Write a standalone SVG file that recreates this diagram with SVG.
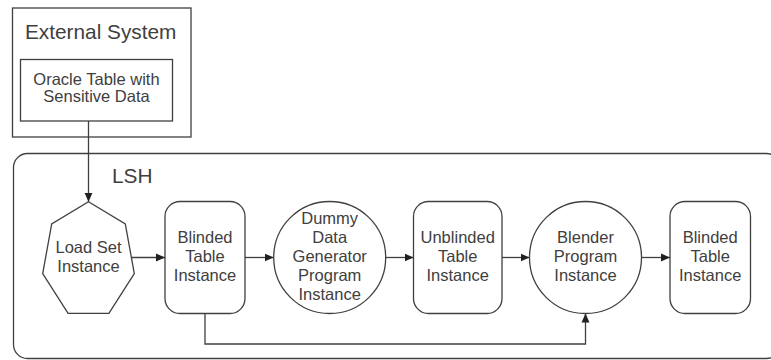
<svg xmlns="http://www.w3.org/2000/svg" width="771" height="360" viewBox="0 0 771 360">
<style>
.s{fill:#fff;stroke:#404040;stroke-width:1.3}
.c{fill:none;stroke:#404040;stroke-width:1.3}
text{font-family:"Liberation Sans",Arial,sans-serif;fill:#404040}
.t{font-size:16.5px;text-anchor:middle}
.h{font-size:20.8px}
</style>
<defs>
<marker id="ah" markerUnits="userSpaceOnUse" markerWidth="10" markerHeight="10" viewBox="0 0 10 10" refX="9" refY="5" orient="auto">
<path d="M0,1 L9,5 L0,9 Z" fill="#202020"/>
</marker>
</defs>
<rect width="771" height="360" fill="#fff"/>
<g id="external-system">
<rect class="s" x="12.5" y="8" width="178.5" height="129"/>
<text class="h" x="25" y="38.5">External System</text>
</g>
<g id="oracle-table">
<rect class="s" x="20.5" y="59.5" width="152" height="61.5"/>
<text class="t" x="96.5" y="85">Oracle Table with</text>
<text class="t" x="96.5" y="102">Sensitive Data</text>
</g>
<g id="lsh">
<rect class="s" x="13.5" y="153.5" width="767" height="205" rx="14"/>
<text class="h" x="112" y="183">LSH</text>
</g>
<g id="load-set">
<polygon class="s" points="88.5,201.8 125.3,223.9 134.3,273.6 108.9,313.4 68.1,313.4 42.7,273.6 51.7,223.9"/>
<text class="t" x="88.5" y="253">Load Set</text>
<text class="t" x="88.5" y="272">Instance</text>
</g>
<g id="blinded-1">
<rect class="s" x="165" y="201.5" width="80" height="112" rx="15"/>
<text class="t" x="205" y="243">Blinded</text>
<text class="t" x="205" y="262">Table</text>
<text class="t" x="205" y="281">Instance</text>
</g>
<g id="dummy-generator">
<circle class="s" cx="329.7" cy="257.5" r="56"/>
<text class="t" x="329.7" y="224">Dummy</text>
<text class="t" x="329.7" y="243">Data</text>
<text class="t" x="329.7" y="262">Generator</text>
<text class="t" x="329.7" y="281">Program</text>
<text class="t" x="329.7" y="300">Instance</text>
</g>
<g id="unblinded">
<rect class="s" x="413.5" y="201.5" width="88.5" height="112" rx="15"/>
<text class="t" x="457.7" y="243">Unblinded</text>
<text class="t" x="457.7" y="262">Table</text>
<text class="t" x="457.7" y="281">Instance</text>
</g>
<g id="blender">
<circle class="s" cx="585.5" cy="257.5" r="56"/>
<text class="t" x="585.5" y="243">Blender</text>
<text class="t" x="585.5" y="262">Program</text>
<text class="t" x="585.5" y="281">Instance</text>
</g>
<g id="blinded-2">
<rect class="s" x="670" y="201.5" width="80.5" height="112" rx="15"/>
<text class="t" x="710.2" y="243">Blinded</text>
<text class="t" x="710.2" y="262">Table</text>
<text class="t" x="710.2" y="281">Instance</text>
</g>
<g id="connectors">
<path class="c" d="M88.5,121 V201.8" marker-end="url(#ah)"/>
<path class="c" d="M131.4,257.5 H165" marker-end="url(#ah)"/>
<path class="c" d="M245,257.5 H273.7" marker-end="url(#ah)"/>
<path class="c" d="M385.7,257.5 H413.5" marker-end="url(#ah)"/>
<path class="c" d="M502,257.5 H529.5" marker-end="url(#ah)"/>
<path class="c" d="M641.5,257.5 H670" marker-end="url(#ah)"/>
<path class="c" d="M205,313.5 V344 H585.5 V313.5" marker-end="url(#ah)"/>
</g>
</svg>
